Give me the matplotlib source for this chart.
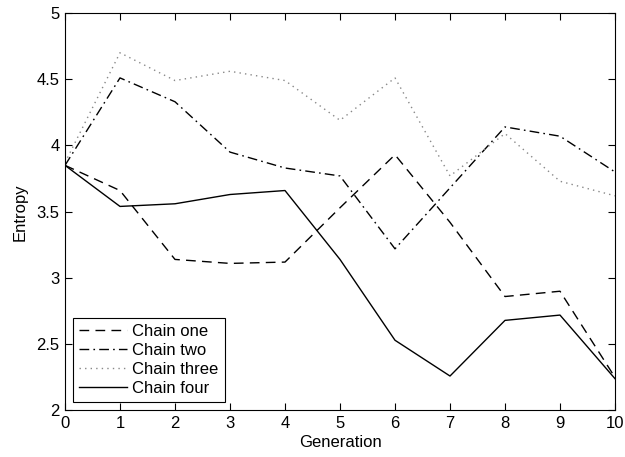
import numpy as np
import matplotlib
matplotlib.use("Agg")
import matplotlib.pyplot as plt

plt.rcParams["font.family"] = ["Liberation Sans", "DejaVu Sans"]

generation = list(range(11))
chain_one = [3.85, 3.66, 3.14, 3.11, 3.12, 3.53, 3.93, 3.42, 2.86, 2.90, 2.25]
chain_two = [3.85, 4.51, 4.33, 3.95, 3.83, 3.77, 3.22, 3.68, 4.14, 4.07, 3.80]
chain_three = [3.87, 4.70, 4.49, 4.56, 4.49, 4.19, 4.51, 3.77, 4.09, 3.73, 3.62]
chain_four = [3.85, 3.54, 3.56, 3.63, 3.66, 3.14, 2.53, 2.26, 2.68, 2.72, 2.24]

fig = plt.figure(figsize=(6.25, 4.57), dpi=100)
ax = fig.add_axes([0.104, 0.1018, 0.88, 0.8698])

ax.plot(generation, chain_one, color="black", lw=1.0, ls=(0, (7, 4.5)), label="Chain one")
ax.plot(generation, chain_two, color="black", lw=1.0, ls=(0, (7, 3, 1.2, 3)), label="Chain two")
ax.plot(generation, chain_three, color="#888888", lw=1.0, ls=(0, (1, 3)), label="Chain three")
ax.plot(generation, chain_four, color="black", lw=1.0, ls="-", label="Chain four")

ax.set_xlim(0, 10)
ax.set_ylim(2, 5)
ax.set_xticks(range(11))
ax.set_yticks([2, 2.5, 3, 3.5, 4, 4.5, 5])
ax.set_yticklabels(["2", "2.5", "3", "3.5", "4", "4.5", "5"])
ax.tick_params(direction="in", top=True, right=True, labelsize=12, length=5, pad=4)
for s in ax.spines.values():
    s.set_linewidth(0.8)
ax.set_xlabel("Generation", fontsize=12, labelpad=3)
ax.set_ylabel("Entropy", fontsize=12, labelpad=6)

leg = ax.legend(loc="lower left", fontsize=12, fancybox=False, framealpha=1,
                edgecolor="black", borderaxespad=0.5, handlelength=2.9,
                labelspacing=0.25, handletextpad=0.3, borderpad=0.35)
leg.get_frame().set_linewidth(0.8)

fig.savefig("out.png", dpi=100, facecolor="white")
